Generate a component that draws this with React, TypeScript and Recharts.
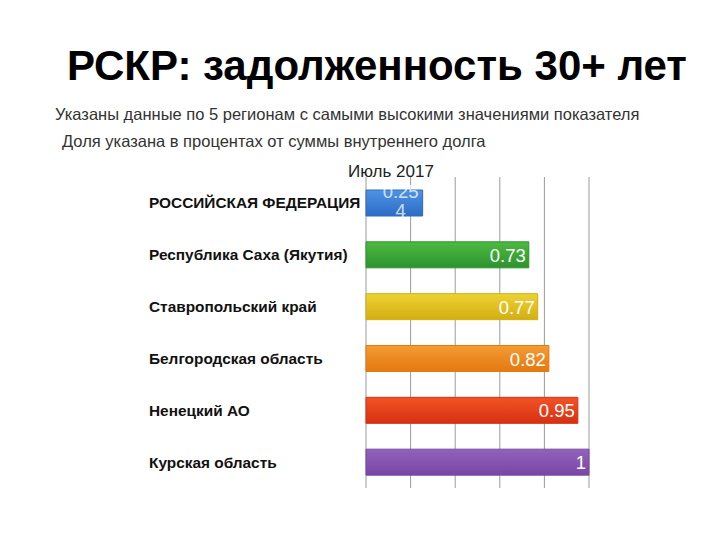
import React from "react";
import { BarChart, Bar, XAxis, YAxis, CartesianGrid, Cell, LabelList } from "recharts";

const regions = [
  "РОССИЙСКАЯ ФЕДЕРАЦИЯ",
  "Республика Саха (Якутия)",
  "Ставропольский край",
  "Белгородская область",
  "Ненецкий АО",
  "Курская область",
];
const values = [0.254, 0.73, 0.77, 0.82, 0.95, 1];
const valueLabels = ["0.254", "0.73", "0.77", "0.82", "0.95", "1"];
const xTicks = [0, 0.2, 0.4, 0.6, 0.8, 1];
const title = "РСКР: задолженность 30+ лет";
const subtitle1 = "Указаны данные по 5 регионам с самыми высокими значениями показателя";
const subtitle2 = "Доля указана в процентах от суммы внутреннего долга";
const seriesName = "Июль 2017";

const gradients = [
  ["#4f93e3", "#2b6cc6"],
  ["#4dba41", "#2c932e"],
  ["#edd233", "#d3ae12"],
  ["#f69b33", "#e37911"],
  ["#f25325", "#d63012"],
  ["#9263ba", "#7846a6"],
];

const data = regions.map((name, i) => ({ name, value: values[i], label: valueLabels[i] }));

const FONT = "'Liberation Sans', Arial, Helvetica, sans-serif";

const YTick = (props: any) => {
  const { y, payload } = props;
  return (
    <text x={149} y={y} dy={5.5} textAnchor="start" fontFamily={FONT} fontWeight="bold" fontSize={15.4} fill="#111">
      {payload.value}
    </text>
  );
};

const ValueLabel = (props: any) => {
  const { x, y, width, height, index } = props;
  const s = valueLabels[index];
  const right = x + width - 3;
  const cy = y + height / 2;
  if (width < 70) {
    const cx = right - 19;
    return (
      <g opacity={0.75}>
        <text x={cx} y={cy - 5} textAnchor="middle" fontFamily={FONT} fontSize={18.5} fill="#fff">
          {s.slice(0, 4)}
        </text>
        <text x={cx} y={cy + 14} textAnchor="middle" fontFamily={FONT} fontSize={18.5} fill="#fff">
          {s.slice(4)}
        </text>
      </g>
    );
  }
  return (
    <text x={right} y={cy + 7} textAnchor="end" fontFamily={FONT} fontSize={18.5} fill="#fff">
      {s}
    </text>
  );
};

export default function App() {
  return (
    <div style={{ position: "absolute", left: 0, top: 0, width: 720, height: 540, background: "#fff", fontFamily: FONT }}>
      <div style={{ position: "absolute", left: 67, top: 40, fontSize: 42, fontWeight: "bold", color: "#000", whiteSpace: "nowrap", lineHeight: "52px" }}>
        {title}
      </div>
      <div style={{ position: "absolute", left: 55, top: 104, fontSize: 16.5, color: "#333", whiteSpace: "nowrap", lineHeight: "20px" }}>
        {subtitle1}
      </div>
      <div style={{ position: "absolute", left: 62, top: 131, fontSize: 16.5, color: "#333", whiteSpace: "nowrap", lineHeight: "20px" }}>
        {subtitle2}
      </div>
      <div style={{ position: "absolute", left: 348, top: 162, fontSize: 17, color: "#222", whiteSpace: "nowrap", lineHeight: "20px" }}>
        {seriesName}
      </div>
      <div style={{ position: "absolute", left: 0, top: 0 }}>
        <BarChart
          width={720}
          height={540}
          data={data}
          layout="vertical"
          margin={{ top: 177, right: 131, bottom: 52, left: 0 }}
        >
          <defs>
            {gradients.map((g, i) => (
              <linearGradient key={i} id={`grad-${i}`} x1="0" y1="0" x2="0" y2="1">
                <stop offset="0%" stopColor={g[0]} />
                <stop offset="100%" stopColor={g[1]} />
              </linearGradient>
            ))}
          </defs>
          <CartesianGrid horizontal={false} vertical={true} stroke="#9a9a9a" strokeWidth={1} />
          <XAxis type="number" domain={[0, 1]} ticks={xTicks} hide />
          <YAxis
            type="category"
            dataKey="name"
            width={366}
            axisLine={false}
            tickLine={false}
            tick={<YTick />}
            interval={0}
          />
          <Bar dataKey="value" barSize={26} isAnimationActive={false}>
            {data.map((d, i) => (
              <Cell key={i} fill={`url(#grad-${i})`} stroke={gradients[i][1]} strokeWidth={1} />
            ))}
            <LabelList dataKey="label" content={<ValueLabel />} />
          </Bar>
        </BarChart>
      </div>
    </div>
  );
}
